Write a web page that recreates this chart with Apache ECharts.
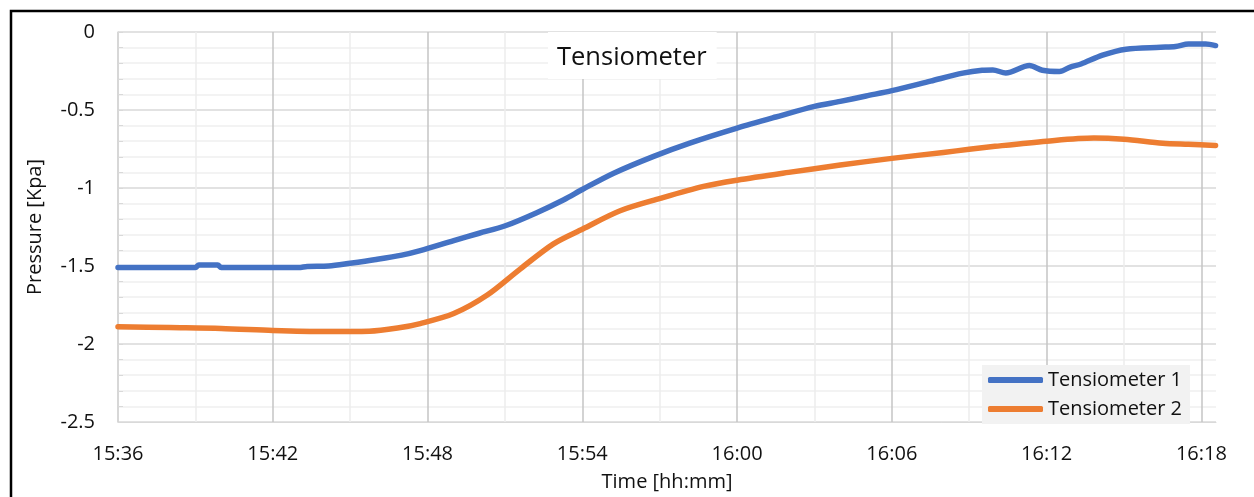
<!DOCTYPE html>
<html>
<head>
<meta charset="utf-8">
<script src="https://cdn.jsdelivr.net/npm/echarts@6/dist/echarts.min.js"></script>
<style>
  html, body { margin: 0; padding: 0; background: #fff; }
  #chart { width: 1254px; height: 497px; }
</style>
</head>
<body>
<div id="chart"></div>
<script>
// Tensiometer 1 readings (time of day, pressure in kPa)
const times1 = [
  '15:36:00', '15:39:00', '15:39:08', '15:39:52', '15:40:00', '15:43:00', '15:43:20',
  '15:44:10', '15:45:00', '15:46:00', '15:47:00', '15:47:43', '15:49:01', '15:50:00',
  '15:51:01', '15:52:14', '15:53:17', '15:54:01', '15:55:13', '15:56:46', '15:58:10',
  '16:00:00', '16:01:30', '16:03:00', '16:04:00', '16:05:00', '16:06:00', '16:07:30',
  '16:08:45', '16:09:30', '16:09:55', '16:10:25', '16:11:20', '16:11:50', '16:12:30',
  '16:12:55', '16:13:20', '16:14:10', '16:15:05', '16:16:25', '16:17:00', '16:17:30',
  '16:18:10', '16:18:33'
];
const pressure1 = [
  -1.51, -1.51, -1.493, -1.493, -1.51, -1.51, -1.503,
  -1.50, -1.482, -1.458, -1.43, -1.401, -1.337, -1.29,
  -1.242, -1.158, -1.075, -1.008, -0.905, -0.797, -0.712,
  -0.616, -0.545, -0.477, -0.445, -0.41, -0.376, -0.315,
  -0.264, -0.245, -0.243, -0.263, -0.215, -0.245, -0.253,
  -0.225, -0.205, -0.148, -0.11, -0.098, -0.093, -0.077,
  -0.077, -0.087
];

// Tensiometer 2 readings
const times2 = [
  '15:36:00', '15:38:00', '15:40:00', '15:42:00', '15:44:00', '15:45:45', '15:46:50',
  '15:47:43', '15:49:01', '15:50:18', '15:51:36', '15:52:53', '15:54:01', '15:55:28',
  '15:57:01', '15:58:42', '16:00:00', '16:02:00', '16:04:00', '16:06:00', '16:08:00',
  '16:09:00', '16:10:00', '16:12:00', '16:13:50', '16:15:00', '16:16:30', '16:17:30',
  '16:18:33'
];
const pressure2 = [
  -1.89, -1.895, -1.90, -1.913, -1.92, -1.918, -1.898,
  -1.869, -1.805, -1.688, -1.518, -1.358, -1.263, -1.146,
  -1.067, -0.99, -0.95, -0.90, -0.853, -0.81, -0.772,
  -0.752, -0.733, -0.70, -0.68, -0.688, -0.713, -0.72,
  -0.727
];

const seriesNames = ['Tensiometer 1', 'Tensiometer 2'];
const yTicks = [0, -0.5, -1, -1.5, -2, -2.5];

// time strings -> minutes since midnight
function toMinutes(t) {
  const p = t.split(':').map(Number);
  return p[0] * 60 + p[1] + (p[2] || 0) / 60;
}
function fmtTime(v) {
  const h = Math.floor(v / 60);
  const m = Math.round(v - h * 60);
  return h + ':' + String(m).padStart(2, '0');
}
function pairs(ts, vs) {
  return ts.map((t, i) => [toMinutes(t), vs[i]]);
}

const xMin = toMinutes('15:36:00');
const xMax = toMinutes('16:18:34');
const font = '"Open Sans", "Noto Sans", sans-serif';
const textColor = '#111';

// vertical major lines: last one sits on the right plot edge and is hidden
const vMajor = [];
for (let v = xMin; v <= xMax; v += 6) vMajor.push('#c4c4c4');
vMajor.push('rgba(0,0,0,0)');

const chart = echarts.init(document.getElementById('chart'), null, { renderer: 'canvas' });
chart.setOption({
  animation: false,
  backgroundColor: '#fff',
  textStyle: { fontFamily: font },
  graphic: [{
    type: 'rect',
    shape: { x: 11, y: 11, width: 1400, height: 700 },
    style: { fill: 'none', stroke: '#000', lineWidth: 2.5 },
    silent: true, z: 100
  }],
  title: {
    text: 'Tensiometer',
    left: 548, top: 32,
    padding: [13, 10, 8, 9],
    backgroundColor: '#fff',
    textStyle: { fontFamily: font, fontSize: 25.5, fontWeight: 'normal', color: textColor }
  },
  legend: {
    data: seriesNames,
    orient: 'vertical',
    left: 982, top: 365,
    padding: [5, 8, 5, 6],
    itemGap: 9,
    itemWidth: 55, itemHeight: 6,
    icon: 'roundRect',
    backgroundColor: '#f2f2f2',
    textStyle: { fontFamily: font, fontSize: 20, color: textColor }
  },
  grid: { left: 118, top: 32, right: 38, bottom: 73 },
  xAxis: {
    type: 'value',
    min: xMin, max: xMax, interval: 6,
    name: 'Time [hh:mm]',
    nameLocation: 'middle', nameGap: 50,
    nameTextStyle: { fontFamily: font, fontSize: 20, color: textColor },
    axisLine: { show: true, onZero: false, lineStyle: { color: '#d9d9d9', width: 1 } },
    axisTick: { show: false },
    axisLabel: {
      margin: 22, fontFamily: font, fontSize: 20, color: textColor,
      showMaxLabel: false,
      formatter: v => fmtTime(v)
    },
    splitLine: { show: true, lineStyle: { color: vMajor, width: 1.5 } },
    minorTick: { show: false, splitNumber: 2 },
    minorSplitLine: { show: true, lineStyle: { color: '#ededed', width: 1.5 } }
  },
  yAxis: {
    type: 'value',
    min: -2.5, max: 0, interval: 0.5,
    name: 'Pressure [Kpa]',
    nameLocation: 'middle', nameGap: 73, nameRotate: 90,
    nameTextStyle: { fontFamily: font, fontSize: 20, color: textColor },
    axisLine: { show: true, lineStyle: { color: '#d9d9d9', width: 1.5 } },
    axisTick: { show: true, inside: true, length: 5, lineStyle: { color: '#d9d9d9' } },
    minorTick: { show: true, splitNumber: 5, length: 5, lineStyle: { color: '#d9d9d9' } },
    axisLabel: {
      margin: 23, fontFamily: font, fontSize: 20, color: textColor,
      formatter: v => yTicks.indexOf(v) >= 0 ? String(v) : ''
    },
    splitLine: { show: true, lineStyle: { color: '#d9d9d9', width: 1.5 } },
    minorSplitLine: { show: true, lineStyle: { color: '#efefef', width: 1.5 } }
  },
  series: [
    {
      name: seriesNames[0], type: 'line',
      data: pairs(times1, pressure1),
      showSymbol: false, smooth: 0.3,
      color: '#4472C4',
      lineStyle: { width: 5.5, cap: 'round', join: 'round' }
    },
    {
      name: seriesNames[1], type: 'line',
      data: pairs(times2, pressure2),
      showSymbol: false, smooth: 0.3,
      color: '#ED7D31',
      lineStyle: { width: 5.5, cap: 'round', join: 'round' }
    }
  ]
});
</script>
</body>
</html>
